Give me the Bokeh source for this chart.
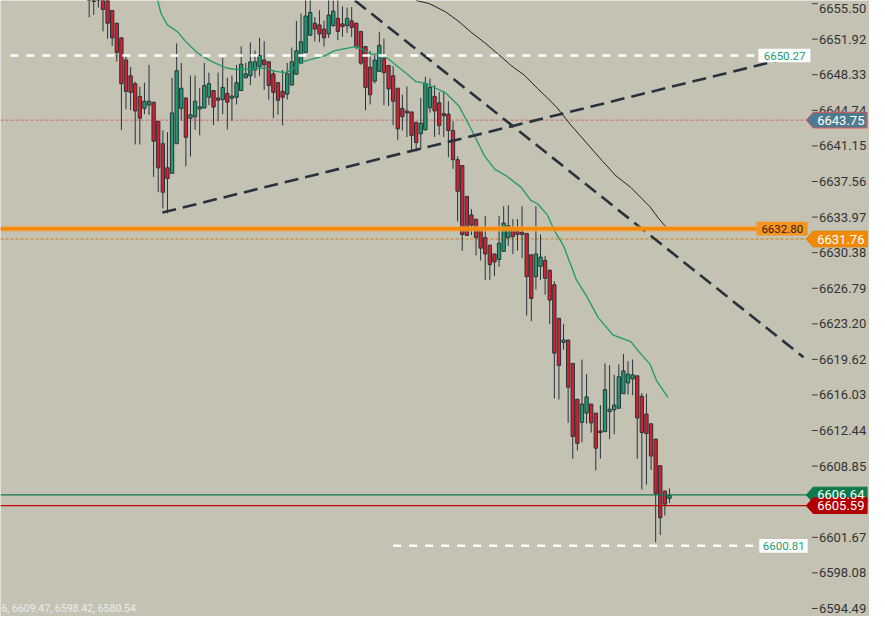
from bokeh.plotting import figure
from bokeh.models import Range1d, ColumnDataSource
from bokeh.core.properties import value
from bokeh.embed import file_html
from bokeh.resources import INLINE

# ---------------- data ----------------
opens = [6657.00, 6656.61, 6656.31, 6656.12, 6655.82, 6654.81, 6653.53, 6652.05, 6649.82, 6648.22,
         6647.43, 6646.15, 6644.94, 6645.27, 6645.56, 6643.63, 6641.37, 6638.94, 6638.39, 6641.37,
         6644.94, 6645.99, 6643.95, 6644.09, 6644.88, 6644.97, 6646.06, 6646.74, 6645.99, 6645.82,
         6646.45, 6645.96, 6646.06, 6646.74, 6648.02, 6648.22, 6648.81, 6649.16, 6649.82, 6649.63,
         6648.42, 6647.53, 6646.65, 6646.38, 6647.29, 6648.38, 6649.50, 6650.58, 6652.31, 6653.53,
         6653.36, 6652.94, 6652.45, 6653.29, 6654.02, 6653.46, 6653.29, 6653.76, 6653.53, 6652.70,
         6651.17, 6649.10, 6647.69, 6648.67, 6649.99, 6649.26, 6648.22, 6646.97, 6644.94, 6644.68,
         6644.58, 6643.53, 6642.38, 6642.77, 6645.00, 6646.15, 6645.50, 6644.41, 6644.35, 6642.71,
         6639.76, 6639.17, 6636.06, 6634.19, 6633.76, 6632.88, 6631.90, 6631.14, 6630.25, 6629.69,
         6630.52, 6631.90, 6632.88, 6632.55, 6632.45, 6632.32, 6630.16, 6627.96, 6629.00, 6629.60,
         6628.61, 6627.14, 6623.76, 6621.33, 6621.57, 6619.21, 6615.60, 6613.27, 6614.20, 6615.11,
         6614.20, 6612.39, 6612.33, 6614.35, 6614.52, 6614.69, 6616.16, 6617.24, 6617.64, 6617.96,
         6615.90, 6614.10, 6613.12, 6611.57, 6608.89, 6606.33, 6605.60]
highs = [6657.79, 6657.30, 6657.00, 6656.41, 6656.12, 6654.84, 6653.56, 6652.08, 6650.24, 6649.10,
         6647.63, 6647.14, 6647.53, 6649.33, 6645.59, 6643.63, 6642.71, 6642.55, 6648.02, 6651.49,
         6649.53, 6645.99, 6648.25, 6648.25, 6646.97, 6649.53, 6648.54, 6646.74, 6648.54, 6650.02,
         6648.05, 6648.25, 6649.33, 6651.20, 6649.53, 6651.59, 6650.78, 6652.05, 6651.72, 6649.63,
         6648.81, 6647.53, 6648.81, 6649.53, 6651.07, 6653.76, 6654.51, 6656.02, 6656.02, 6654.15,
         6654.84, 6653.78, 6656.02, 6656.02, 6656.02, 6655.23, 6655.10, 6655.16, 6653.56, 6652.70,
         6651.17, 6650.74, 6650.31, 6652.67, 6651.96, 6649.33, 6649.20, 6646.97, 6646.31, 6647.14,
         6644.58, 6643.53, 6645.99, 6648.12, 6647.95, 6647.29, 6646.58, 6646.68, 6645.66, 6643.63,
         6640.09, 6639.20, 6636.06, 6634.78, 6633.79, 6632.88, 6634.09, 6631.14, 6630.25, 6634.09,
         6635.07, 6635.17, 6633.76, 6633.76, 6635.07, 6632.32, 6630.16, 6635.07, 6632.22, 6630.06,
         6628.68, 6627.50, 6623.76, 6623.20, 6621.57, 6619.21, 6615.60, 6619.60, 6618.13, 6615.11,
         6614.20, 6615.01, 6619.21, 6619.04, 6618.06, 6619.11, 6620.16, 6619.44, 6619.60, 6617.96,
         6616.22, 6616.16, 6613.12, 6611.57, 6608.89, 6606.39, 6606.59]
lows = [6654.12, 6654.37, 6655.10, 6652.70, 6651.96, 6651.23, 6649.65, 6642.74, 6644.84, 6644.78,
        6641.30, 6641.30, 6644.35, 6644.29, 6638.02, 6636.48, 6634.85, 6634.35, 6638.39, 6641.37,
        6643.70, 6639.10, 6640.09, 6642.77, 6642.22, 6644.97, 6645.27, 6643.26, 6643.63, 6644.35,
        6642.81, 6643.70, 6645.33, 6646.74, 6648.02, 6647.29, 6648.02, 6648.22, 6646.80, 6645.82,
        6643.95, 6644.29, 6643.23, 6645.82, 6647.29, 6648.38, 6649.50, 6650.58, 6652.28, 6651.69,
        6651.62, 6651.17, 6652.05, 6653.19, 6651.82, 6652.15, 6652.55, 6652.15, 6650.90, 6649.33,
        6644.74, 6645.33, 6647.46, 6648.61, 6645.27, 6645.20, 6643.23, 6641.73, 6642.71, 6642.05,
        6640.51, 6640.58, 6640.80, 6642.77, 6644.51, 6642.05, 6642.25, 6642.05, 6640.02, 6638.84,
        6633.53, 6630.58, 6632.12, 6632.15, 6630.09, 6629.60, 6627.63, 6627.63, 6628.02, 6628.95,
        6630.52, 6631.07, 6630.25, 6630.58, 6629.83, 6624.03, 6623.47, 6626.65, 6627.63, 6626.15,
        6623.20, 6615.67, 6615.57, 6620.59, 6613.21, 6609.60, 6610.42, 6611.25, 6613.14, 6612.23,
        6608.42, 6609.60, 6612.33, 6611.57, 6612.06, 6614.69, 6616.16, 6616.07, 6616.00, 6609.60,
        6606.49, 6606.98, 6608.46, 6601.18, 6601.90, 6603.87, 6605.11]
closes = [6656.21, 6655.72, 6655.92, 6654.91, 6653.53, 6652.05, 6650.58, 6647.43, 6646.65, 6646.55,
          6644.68, 6643.95, 6645.66, 6645.66, 6641.63, 6638.94, 6636.48, 6637.86, 6644.48, 6648.74,
          6646.97, 6642.02, 6644.29, 6645.66, 6645.10, 6647.24, 6647.43, 6645.07, 6645.76, 6647.04,
          6645.56, 6646.18, 6647.53, 6649.40, 6648.42, 6649.63, 6649.63, 6650.28, 6649.33, 6647.24,
          6646.55, 6645.76, 6646.06, 6648.42, 6649.63, 6650.74, 6651.66, 6654.25, 6654.61, 6652.94,
          6652.45, 6652.05, 6654.35, 6654.74, 6652.70, 6653.19, 6654.02, 6653.10, 6651.17, 6649.50,
          6647.04, 6646.31, 6649.82, 6651.30, 6648.54, 6646.90, 6645.66, 6642.87, 6644.09, 6644.48,
          6642.22, 6641.49, 6643.43, 6647.46, 6647.04, 6644.68, 6643.20, 6644.19, 6642.71, 6639.76,
          6636.58, 6632.22, 6632.12, 6633.14, 6631.90, 6630.84, 6630.25, 6629.17, 6629.44, 6631.34,
          6633.37, 6633.11, 6632.00, 6632.22, 6632.22, 6627.96, 6625.76, 6630.25, 6629.93, 6627.80,
          6625.60, 6620.25, 6619.01, 6621.57, 6616.81, 6611.84, 6611.15, 6615.11, 6615.83, 6613.21,
          6610.66, 6612.23, 6616.56, 6614.59, 6615.01, 6617.86, 6618.45, 6618.13, 6618.06, 6613.71,
          6612.23, 6612.13, 6609.87, 6606.09, 6603.64, 6605.01, 6605.90]

# moving averages (bar index, price)
ma_fast_idx = [14.9, 15.6, 17.0, 19.1, 20.9, 23.4, 26.2, 29.8, 31.9, 36.2, 38.3, 40.5, 42.6, 44.0, 46.1,
               49.0, 51.1, 53.2, 54.7, 57.9, 59.3, 61.1, 63.2, 65.0, 66.7, 68.9, 71.0, 73.1, 75.3, 77.4,
               80.3, 83.1, 85.9, 88.1, 90.6, 93.8, 95.9, 97.3, 99.5, 100.9, 103.0, 105.8, 108.0, 110.5,
               113.7, 117.6, 119.3, 121.8, 123.2, 125.7]
ma_fast_val = [6655.82, 6654.51, 6653.36, 6652.70, 6651.72, 6650.58, 6649.75, 6649.01, 6648.84, 6648.94,
               6649.01, 6648.67, 6648.54, 6648.84, 6649.60, 6649.99, 6650.24, 6650.74, 6650.90, 6651.17,
               6650.90, 6650.41, 6650.41, 6649.92, 6649.26, 6648.45, 6647.63, 6647.46, 6646.97, 6646.48,
               6645.17, 6642.71, 6640.09, 6638.78, 6638.12, 6636.97, 6635.66, 6635.34, 6634.19, 6632.71,
               6631.07, 6627.63, 6626.00, 6623.86, 6622.09, 6621.40, 6620.42, 6619.11, 6617.47, 6615.77]
ma_slow_idx = [71.0, 73.9, 77.4, 80.3, 83.1, 85.9, 88.8, 91.6, 94.5, 97.3, 99.5, 101.6, 104.4, 108.7,
               111.5, 114.4, 117.6, 120.0, 121.8, 123.6, 125.4]
ma_slow_val = [6655.82, 6655.50, 6654.67, 6653.69, 6652.55, 6651.56, 6650.41, 6649.26, 6648.28, 6646.97,
               6645.99, 6645.00, 6643.36, 6641.07, 6639.60, 6638.12, 6636.97, 6635.83, 6635.00, 6633.86,
               6632.88]

# trend lines
up_trend_idx = [15.9, 155.1]
up_trend_val = [6634.43, 6650.41]
down_trend_idx = [57.7, 155.1]
down_trend_val = [6655.82, 6619.83]

# horizontal levels
white_levels = [6650.27, 6600.81]
orange_level = 6632.80
orange_dash_level = 6631.76
pink_level = 6643.75
bid_level = 6605.94
ask_level = 6604.86
tag_texts = ["6643.75", "6631.76", "6606.64", "6605.59"]

price_ticks = [6594.49, 6598.08, 6601.67, 6605.26, 6608.85, 6612.44, 6616.03, 6619.62, 6623.20,
               6626.79, 6630.38, 6633.97, 6637.56, 6641.15, 6644.74, 6648.33, 6651.92, 6655.50]
price_tick_labels = ["%.2f" % t for t in price_ticks]
footer_text = "6, 6609.47, 6598.42, 6580.54"

# ---------------- styling ----------------
BG = "#c4c2b3"
DARK = "#28323c"
GREEN = "#1e9c6c"
RED = "#d3212d"
X0, X1 = -19.25, 169.43      # whole picture width (price scale area included)
XF = 156.65                  # right edge of the price pane
Y0, Y1 = 6593.68, 6655.82

p = figure(width=869, height=616, x_range=Range1d(X0, X1), y_range=Range1d(Y0, Y1),
           output_backend="svg", toolbar_location=None,
           x_axis_location=None, y_axis_location=None,
           min_border_left=0, min_border_top=0, min_border_bottom=0, min_border_right=0)
p.background_fill_color = BG
p.border_fill_color = BG
p.outline_line_color = None
p.xgrid.visible = False
p.ygrid.visible = False

# horizontal level lines (behind candles)
p.segment(x0=[X0], x1=[XF], y0=[pink_level], y1=[pink_level], line_color="#cf6666",
          line_width=1, line_dash="3 2")
p.segment(x0=[X0], x1=[XF], y0=[orange_dash_level], y1=[orange_dash_level], line_color="#d27c12",
          line_width=1, line_dash="3 2")

# candles
n = len(opens)
xs = list(range(n))
src = ColumnDataSource(dict(
    x=xs, h=highs, l=lows,
    top=[max(o, c) for o, c in zip(opens, closes)],
    bottom=[min(o, c) for o, c in zip(opens, closes)],
    color=[GREEN if c >= o else RED for o, c in zip(opens, closes)],
))
p.segment(x0="x", y0="l", x1="x", y1="h", source=src, line_color=DARK, line_width=1)
p.vbar(x="x", width=0.72, top="top", bottom="bottom", fill_color="color",
       line_color=DARK, line_width=1, source=src)

# moving averages
p.line(ma_fast_idx, ma_fast_val, line_color="#1f9a6a", line_width=1.3)
p.line(ma_slow_idx, ma_slow_val, line_color="#222222", line_width=1)

# trend lines
p.line(up_trend_idx, up_trend_val, line_color=DARK, line_width=2.6, line_dash="14 7")
p.line(down_trend_idx, down_trend_val, line_color=DARK, line_width=2.6, line_dash="14 7")

# white dashed levels
p.segment(x0=[-17.1, 66.0], x1=[145.1, 145.1], y0=white_levels, y1=white_levels,
          line_color="white", line_width=2.6, line_dash="8 8")
# orange solid level
p.segment(x0=[X0], x1=[144.9], y0=[orange_level], y1=[orange_level],
          line_color="#f9a84a", line_width=6, line_alpha=0.6)
p.segment(x0=[X0], x1=[144.9], y0=[orange_level], y1=[orange_level],
          line_color="#f48b0c", line_width=3.5)
# bid / ask lines
p.segment(x0=[X0], x1=[XF], y0=[bid_level], y1=[bid_level], line_color="#0c7a4c", line_width=1.2)
p.segment(x0=[X0], x1=[XF], y0=[ask_level], y1=[ask_level], line_color="#c40000", line_width=1.2)

# in-frame level labels
hh = 0.69
box_levels = [white_levels[0], orange_level, white_levels[1]]
p.quad(left=[145.3, 144.9, 145.5], right=[156.6, 156.0, 156.0],
       bottom=[v - hh for v in box_levels], top=[v + hh for v in box_levels],
       fill_color=["white", "#f7931e", "white"], line_color=None)
p.text(x=[151.0, 150.5, 150.8], y=box_levels, text=["%.2f" % v for v in box_levels],
       text_color=["#17a06e", "#2a2418", "#17a06e"], text_font=value("Roboto"),
       text_font_size="11.5px", text_align="center", text_baseline="middle")

# price scale: tick marks and labels
p.segment(x0=[156.95] * len(price_ticks), x1=[158.2] * len(price_ticks),
          y0=price_ticks, y1=price_ticks, line_color="#3a3a3a", line_width=1)
tick_src = ColumnDataSource(dict(
    x=[158.45] * len(price_ticks), y=price_ticks, text=price_tick_labels,
    dy=[0] * (len(price_ticks) - 1) + [5],   # keep the topmost label inside the picture
))
p.text(x="x", y="y", text="text", y_offset="dy", source=tick_src,
       text_color="#333333", text_font=value("Roboto"), text_font_size="13px",
       text_align="left", text_baseline="middle")

# price tags on the scale
tag_levels = [pink_level, orange_dash_level, bid_level, ask_level]
tag_fills = ["#4d7b8f", "#f28a06", "#0d7a4c", "#b20000"]
tag_lines = ["#e05555", "#e08000", "#0d7a4c", "#b20000"]
hv = 0.79
p.patches(xs=[[155.7, 157.2, 168.9, 168.9, 157.2] for _ in tag_levels],
          ys=[[v, v + hv, v + hv, v - hv, v - hv] for v in tag_levels],
          fill_color=tag_fills, line_color=tag_lines, line_width=1)
p.text(x=[163.2] * len(tag_levels), y=tag_levels, text=tag_texts, text_color="white",
       text_font=value("Roboto"), text_font_size="13px", text_align="center", text_baseline="middle")

# footer indicator values
p.text(x=[X0 + 0.2], y=[6594.45], text=[footer_text], text_color="#ececec",
       text_font=value("Roboto"), text_font_size="10.5px", text_align="left", text_baseline="middle")

open("out.html", "w").write(file_html(p, INLINE))
